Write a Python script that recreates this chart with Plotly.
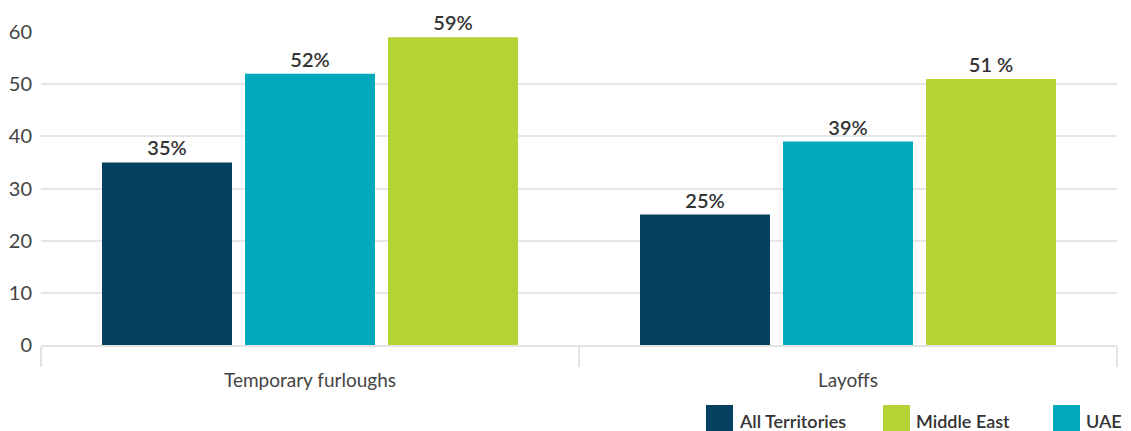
import plotly.graph_objects as go

categories = ["Temporary furloughs", "Layoffs"]
all_territories = [35, 25]
uae = [52, 39]
middle_east = [59, 51]
labels_all = ["35%", "25%"]
labels_uae = ["52%", "39%"]
labels_me = ["59%", "51 %"]
legend_names = ["All Territories", "Middle East", "UAE"]

C_ALL = "#04405f"
C_UAE = "#02a9bc"
C_ME = "#b4d334"
legend_colors = [C_ALL, C_ME, C_UAE]
FONT = "Lato"

W, H = 1131, 431
ML, MR, MT, MB = 41, 14, 32, 86
PW, PH = W - ML - MR, H - MT - MB

fig = go.Figure()
for name, vals, labs, col in [
    ("All Territories", all_territories, labels_all, C_ALL),
    ("UAE", uae, labels_uae, C_UAE),
    ("Middle East", middle_east, labels_me, C_ME),
]:
    fig.add_trace(go.Bar(
        x=categories, y=vals, name=name, marker_color=col, marker_line_width=0,
        text=labs, textposition="outside", cliponaxis=False,
        textfont=dict(family=FONT, size=20, color="#333333", weight=600),
        showlegend=False,
    ))

# manual legend (large square swatches)
def px_x(x):
    return (x - ML) / PW
def px_y(y):
    return (H - MB - y) / PH

sq_left = [706, 883, 1053]
for name, col, x0 in zip(legend_names, legend_colors, sq_left):
    fig.add_shape(type="rect", xref="paper", yref="paper",
                  x0=px_x(x0), x1=px_x(x0 + 27), y0=px_y(432), y1=px_y(405),
                  fillcolor=col, line_width=0)
    fig.add_annotation(xref="paper", yref="paper", x=px_x(x0 + 31), y=px_y(421),
                       xanchor="left", yanchor="middle", text=name, showarrow=False,
                       font=dict(family=FONT, size=18, color="#333333", weight=600))

fig.update_layout(
    width=W, height=H,
    margin=dict(l=ML, r=MR, t=MT, b=MB, autoexpand=False),
    paper_bgcolor="white", plot_bgcolor="white",
    barmode="group", bargap=0.2026, bargroupgap=0.091,
    font=dict(family=FONT, color="#444444"),
    showlegend=False,
)
fig.update_yaxes(
    range=[0, 60], dtick=10, showgrid=True, gridcolor="#e6e6e6", gridwidth=2,
    zeroline=False, showline=False, ticks="", ticklabelstandoff=8,
    tickfont=dict(family=FONT, size=20, color="#444444"),
)
fig.update_xaxes(
    showline=True, linecolor="#e3e3e3", linewidth=2,
    ticks="outside", tickson="boundaries", ticklen=20, tickwidth=2, tickcolor="#e3e3e3",
    ticklabelstandoff=17,
    tickfont=dict(family=FONT, size=19, color="#444444"),
)

fig.write_html("out.html")
